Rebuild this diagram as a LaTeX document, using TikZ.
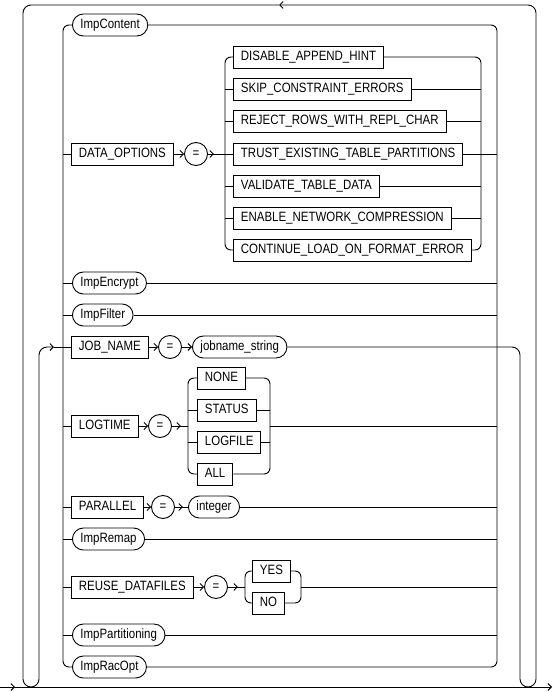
\documentclass[tikz,border=0pt]{standalone}
\usepackage{fontspec}
\setmainfont[FakeStretch=0.85]{Liberation Sans}
\usetikzlibrary{arrows.meta,decorations.markings}
\begin{document}
\begin{tikzpicture}[x=1pt,y=-1pt,line width=0.9pt,
  font=\fontsize{13.5}{15}\selectfont,
  >={Straight Barb[length=3.5pt,width=7pt]},
  kw/.style={draw,rectangle,minimum height=22pt,inner xsep=7.5pt,inner ysep=0pt,
     text height=9.7pt,text depth=3.5pt,anchor=west},
  nt/.style={draw,rectangle,rounded corners=11pt,minimum height=22pt,inner xsep=8pt,inner ysep=0pt,
     text height=9.7pt,text depth=3.5pt,anchor=west},
  eq/.style={draw,circle,minimum size=23pt,inner sep=0pt},
  rcs/.style={rounded corners=6pt},
  rcl/.style={rounded corners=8pt},
  midarr/.style={postaction={decorate,decoration={markings,mark=at position #1 with {\arrow{>}}}}}
]
\useasboundingbox (0,0) rectangle (553,692);

% nodes
\node[nt] (content) at (72,25) {ImpContent};
\node[kw] (dataopt) at (71,154) {DATA\_OPTIONS};
\node[eq] (eq1) at (196,154) {=};
\node[kw] (d1) at (233,57) {DISABLE\_APPEND\_HINT};
\node[kw] (d2) at (233,89) {SKIP\_CONSTRAINT\_ERRORS};
\node[kw] (d3) at (233,121) {REJECT\_ROWS\_WITH\_REPL\_CHAR};
\node[kw] (d4) at (233,154) {TRUST\_EXISTING\_TABLE\_PARTITIONS};
\node[kw] (d5) at (233,186) {VALIDATE\_TABLE\_DATA};
\node[kw] (d6) at (233,218) {ENABLE\_NETWORK\_COMPRESSION};
\node[kw] (d7) at (233,250) {CONTINUE\_LOAD\_ON\_FORMAT\_ERROR};
\node[nt] (encrypt) at (72,283) {ImpEncrypt};
\node[nt] (filter) at (72,315) {ImpFilter};
\node[kw] (job) at (71,347) {JOB\_NAME};
\node[eq] (eq2) at (170,347) {=};
\node[nt] (jobstr) at (192,347) {jobname\_string};
\node[kw] (logtime) at (71,426) {LOGTIME};
\node[eq] (eq3) at (160,426) {=};
\node[kw] (l1) at (197,378) {NONE};
\node[kw] (l2) at (197,410) {STATUS};
\node[kw] (l3) at (197,442) {LOGFILE};
\node[kw] (l4) at (197,474) {ALL};
\node[kw] (parallel) at (71,507) {PARALLEL};
\node[eq] (eq4) at (163,507) {=};
\node[nt] (int) at (188,507) {integer};
\node[nt] (remap) at (72,539) {ImpRemap};
\node[kw] (reuse) at (71,587) {REUSE\_DATAFILES};
\node[eq] (eq5) at (216,587) {=};
\node[kw] (yes) at (252,571) {YES};
\node[kw] (no) at (252,603) {NO};
\node[nt] (part) at (72,635) {ImpPartitioning};
\node[nt] (rac) at (72,667) {ImpRacOpt};

% junction coordinates
\coordinate (IL) at (63,347);
\coordinate (IR) at (497,347);
\coordinate (DL) at (225,154);
\coordinate (DR) at (481,154);
\coordinate (LL) at (188,426);
\coordinate (LR) at (270,426);
\coordinate (RL) at (245,587);
\coordinate (RR) at (301,587);
\coordinate (start) at (0,687);
\coordinate (end) at (552,687);
\coordinate (top) at (279,5);
\coordinate (lin) at (54,347);
\coordinate (R1) at (520,347);
\coordinate (R2) at (520,687);
\coordinate (R3) at (536,687);
\coordinate (R4) at (536,5);
\coordinate (L1) at (23,5);
\coordinate (L2) at (23,687);
\coordinate (L3) at (39,687);
\coordinate (L4) at (39,347);

% main line
\draw[->,midarr=15pt] (start) -- (end);

% repeat loop
\draw[rcl,->] (jobstr.east) -- (R1) -- (R2) -- (R3) -- (R4) -- (top);
\draw[rcl,->] (top) -- (L1) -- (L2) -- (L3) -- (L4) -- (lin);
\draw (lin) -- (job);

% inner choice box
\draw[rcs] (content.west) -| (IL) |- (rac.west);
\draw[rcs] (content.east) -| (IR) |- (rac.east);
\foreach \n in {dataopt,encrypt,filter,logtime,parallel,remap,reuse,part}
  \draw (IL |- \n) -- (\n);
\foreach \n in {encrypt,filter,int,remap,part}
  \draw (\n) -- (IR |- \n);
\draw (DR) -- (IR |- DR);
\draw (LR) -- (IR |- LR);
\draw (RR) -- (IR |- RR);

% DATA_OPTIONS
\draw[->] (dataopt) -- (eq1);
\draw[midarr=6pt] (eq1) -- (DL);
\draw[rcs] (d1.west) -| (DL) |- (d7.west);
\draw[rcs] (d1.east) -| (DR) |- (d7.east);
\foreach \n in {d2,d3,d5,d6} {
  \draw (DL |- \n) -- (\n);
  \draw (\n) -- (DR |- \n);
}
\draw (DL) -- (d4);
\draw (d4) -- (DR);

% JOB_NAME
\draw[->] (job) -- (eq2);
\draw[->] (eq2) -- (jobstr);

% LOGTIME
\draw[->] (logtime) -- (eq3);
\draw[midarr=9pt] (eq3) -- (LL);
\draw[rcs] (l1.west) -| (LL) |- (l4.west);
\draw[rcs] (l1.east) -| (LR) |- (l4.east);
\foreach \n in {l2,l3} {
  \draw (LL |- \n) -- (\n);
  \draw (\n) -- (LR |- \n);
}

% PARALLEL
\draw[->] (parallel) -- (eq4);
\draw[midarr=8pt] (eq4) -- (int);

% REUSE_DATAFILES
\draw[->] (reuse) -- (eq5);
\draw[midarr=10pt] (eq5) -- (RL);
\draw[rcs] (yes.west) -| (RL) |- (no.west);
\draw[rcs] (yes.east) -| (RR) |- (no.east);
\end{tikzpicture}
\end{document}
